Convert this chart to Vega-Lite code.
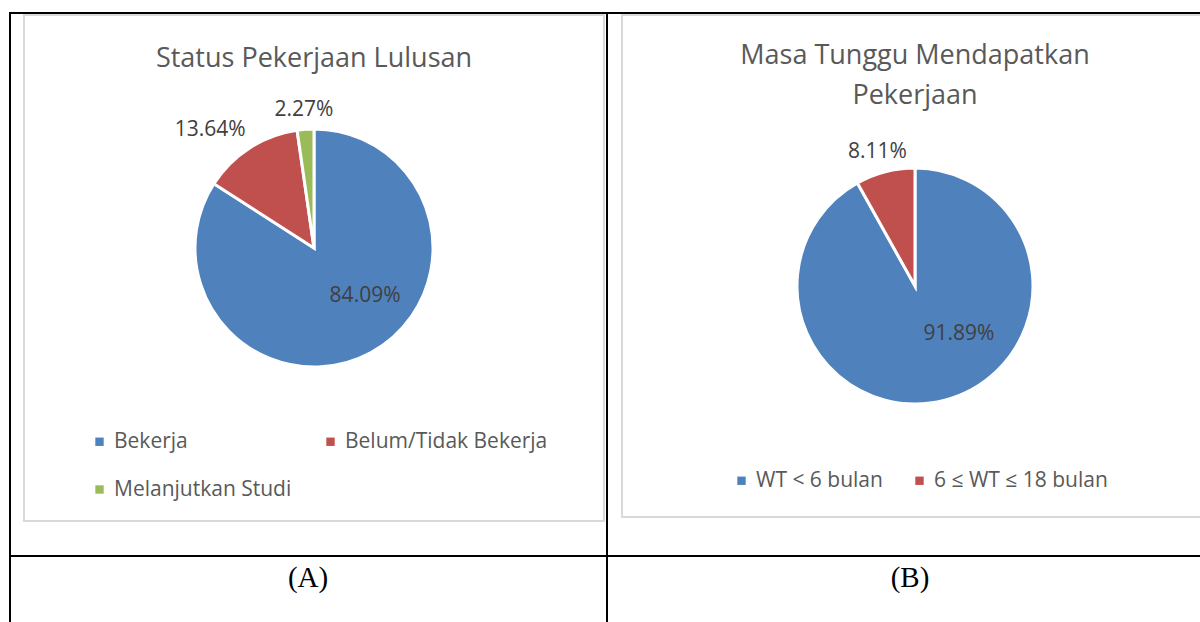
{
  "$schema": "https://vega.github.io/schema/vega-lite/v6.json",
  "width": 1200,
  "height": 622,
  "autosize": {"type": "fit", "contains": "padding"},
  "padding": 0,
  "background": "white",
  "config": {
    "view": {"stroke": null},
    "font": "Open Sans",
    "legend": {
      "symbolType": "square",
      "symbolSize": 70,
      "symbolStrokeWidth": 0,
      "labelFontSize": 21,
      "labelColor": "#595959",
      "labelFont": "Open Sans",
      "labelLimit": 400,
      "symbolOffset": 0,
      "direction": "horizontal"
    }
  },
  "datasets": {
    "status": [
      {"status": "Bekerja", "share": 0.8409, "order": 1},
      {"status": "Belum/Tidak Bekerja", "share": 0.1364, "order": 2},
      {"status": "Melanjutkan Studi", "share": 0.0227, "order": 3}
    ],
    "wait": [
      {"wait": "WT < 6 bulan", "share": 0.9189, "order": 1},
      {"wait": "6 ≤ WT ≤ 18 bulan", "share": 0.0811, "order": 2}
    ],
    "blank": [{}]
  },
  "layer": [
    {
      "data": {"name": "blank"},
      "mark": {"type": "rect", "x": 24, "y": 15, "x2": 604, "y2": 521, "fill": null, "stroke": "#d9d9d9", "strokeWidth": 2},
      "encoding": {}
    },
    {
      "data": {"name": "blank"},
      "mark": {"type": "rect", "x": 622, "y": 15, "x2": 1210, "y2": 517, "fill": null, "stroke": "#d9d9d9", "strokeWidth": 2},
      "encoding": {}
    },
    {
      "data": {"name": "blank"},
      "mark": {"type": "rect", "x": 9, "y": 12, "x2": 1200, "y2": 14, "fill": "black"},
      "encoding": {}
    },
    {
      "data": {"name": "blank"},
      "mark": {"type": "rect", "x": 9, "y": 555, "x2": 1200, "y2": 557, "fill": "black"},
      "encoding": {}
    },
    {
      "data": {"name": "blank"},
      "mark": {"type": "rect", "x": 9, "y": 12, "x2": 11, "y2": 622, "fill": "black"},
      "encoding": {}
    },
    {
      "data": {"name": "blank"},
      "mark": {"type": "rect", "x": 606, "y": 12, "x2": 608, "y2": 622, "fill": "black"},
      "encoding": {}
    },
    {
      "data": {"name": "blank"},
      "mark": {"type": "text", "x": 314, "y": 67, "text": "Status Pekerjaan Lulusan", "fontSize": 27, "fill": "#595959", "baseline": "alphabetic"},
      "encoding": {}
    },
    {
      "data": {"name": "blank"},
      "mark": {"type": "text", "x": 915, "y": 64, "text": ["Masa Tunggu Mendapatkan", "Pekerjaan"], "lineHeight": 40, "fontSize": 27, "fill": "#595959", "baseline": "alphabetic"},
      "encoding": {}
    },
    {
      "data": {"name": "blank"},
      "mark": {"type": "text", "x": 308, "y": 578, "text": "(A)", "font": "Liberation Serif", "fontSize": 29, "fill": "black"},
      "encoding": {}
    },
    {
      "data": {"name": "blank"},
      "mark": {"type": "text", "x": 910, "y": 578, "text": "(B)", "font": "Liberation Serif", "fontSize": 29, "fill": "black"},
      "encoding": {}
    },
    {
      "data": {"name": "status"},
      "mark": {"type": "arc", "x": 314, "y": 248, "outerRadius": 119, "stroke": "white", "strokeWidth": 3},
      "encoding": {
        "theta": {"field": "share", "type": "quantitative", "stack": true},
        "order": {"field": "order", "type": "quantitative"},
        "color": {
          "field": "status", "type": "nominal",
          "scale": {"domain": ["Bekerja", "Belum/Tidak Bekerja", "Melanjutkan Studi"], "range": ["#4f81bd", "#c0504d", "#9bbb59"]},
          "legend": {"title": null, "orient": "none", "legendX": 89, "legendY": 431, "columns": 2, "columnPadding": 28, "rowPadding": 26}
        }
      }
    },
    {
      "data": {"name": "wait"},
      "mark": {"type": "arc", "x": 915, "y": 286, "outerRadius": 118, "stroke": "white", "strokeWidth": 3},
      "encoding": {
        "theta": {"field": "share", "type": "quantitative", "stack": true},
        "order": {"field": "order", "type": "quantitative"},
        "color": {
          "field": "wait", "type": "nominal",
          "scale": {"domain": ["WT < 6 bulan", "6 ≤ WT ≤ 18 bulan"], "range": ["#4f81bd", "#c0504d"]},
          "legend": {"title": null, "orient": "none", "legendX": 731, "legendY": 470, "columns": 2, "columnPadding": 26}
        }
      }
    },
    {
      "data": {"name": "status"},
      "mark": {"type": "text", "x": 314, "y": 248, "radius": 69, "dx": 18, "dy": -13, "fontSize": 21, "fill": "#404040"},
      "encoding": {
        "theta": {"field": "share", "type": "quantitative", "stack": true},
        "order": {"field": "order", "type": "quantitative"},
        "detail": {"field": "status", "type": "nominal"},
        "text": {"condition": {"test": "datum.status === 'Bekerja'", "field": "share", "type": "quantitative", "format": ".2%"}, "value": ""}
      }
    },
    {
      "data": {"name": "status"},
      "mark": {"type": "text", "x": 314, "y": 248, "radius": 157, "dx": -19, "dy": 14, "fontSize": 21, "fill": "#404040"},
      "encoding": {
        "theta": {"field": "share", "type": "quantitative", "stack": true},
        "order": {"field": "order", "type": "quantitative"},
        "detail": {"field": "status", "type": "nominal"},
        "text": {"condition": {"test": "datum.status === 'Belum/Tidak Bekerja'", "field": "share", "type": "quantitative", "format": ".2%"}, "value": ""}
      }
    },
    {
      "data": {"name": "status"},
      "mark": {"type": "text", "x": 314, "y": 248, "radius": 140, "dy": 2, "fontSize": 21, "fill": "#404040"},
      "encoding": {
        "theta": {"field": "share", "type": "quantitative", "stack": true},
        "order": {"field": "order", "type": "quantitative"},
        "detail": {"field": "status", "type": "nominal"},
        "text": {"condition": {"test": "datum.status === 'Melanjutkan Studi'", "field": "share", "type": "quantitative", "format": ".2%"}, "value": ""}
      }
    },
    {
      "data": {"name": "wait"},
      "mark": {"type": "text", "x": 915, "y": 286, "radius": 63, "dx": 28, "dy": -13, "fontSize": 21, "fill": "#404040"},
      "encoding": {
        "theta": {"field": "share", "type": "quantitative", "stack": true},
        "order": {"field": "order", "type": "quantitative"},
        "detail": {"field": "wait", "type": "nominal"},
        "text": {"condition": {"test": "datum.wait === 'WT < 6 bulan'", "field": "share", "type": "quantitative", "format": ".2%"}, "value": ""}
      }
    },
    {
      "data": {"name": "wait"},
      "mark": {"type": "text", "x": 915, "y": 286, "radius": 141, "dx": -2, "dy": 2, "fontSize": 21, "fill": "#404040"},
      "encoding": {
        "theta": {"field": "share", "type": "quantitative", "stack": true},
        "order": {"field": "order", "type": "quantitative"},
        "detail": {"field": "wait", "type": "nominal"},
        "text": {"condition": {"test": "datum.wait === '6 ≤ WT ≤ 18 bulan'", "field": "share", "type": "quantitative", "format": ".2%"}, "value": ""}
      }
    }
  ],
  "resolve": {"scale": {"color": "independent"}, "legend": {"color": "independent"}}
}
